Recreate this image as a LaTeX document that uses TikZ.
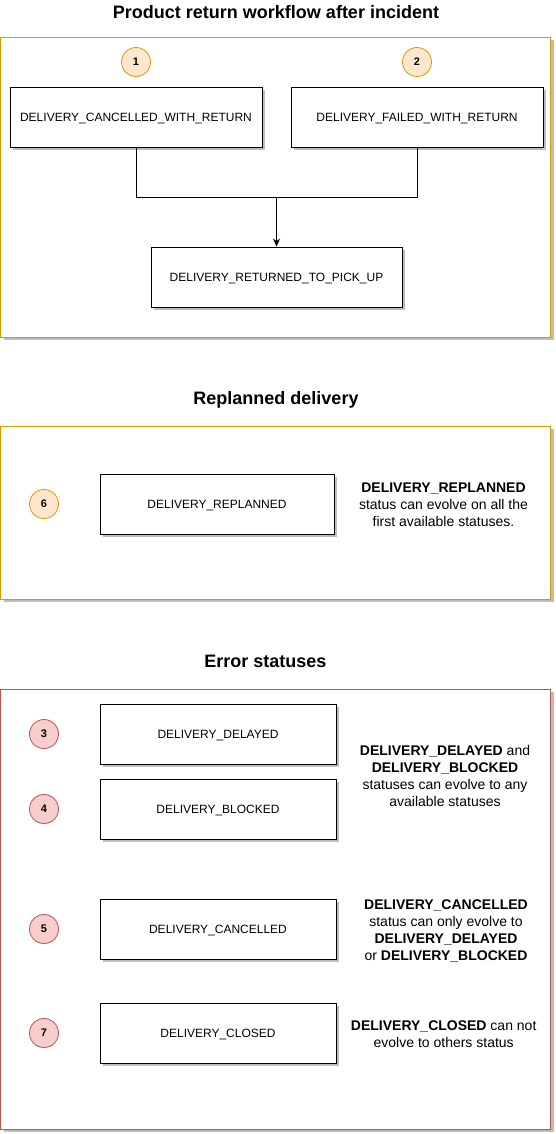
\documentclass[tikz,border=0pt]{standalone}
\usepackage{fontspec}
\setmainfont{Liberation Sans}
\usetikzlibrary{arrows.meta,shadows}
\definecolor{orgstroke}{HTML}{D79B00}
\definecolor{orgfill}{HTML}{FFE6CC}
\definecolor{redstroke}{HTML}{B85450}
\definecolor{redfill}{HTML}{F8CECC}
\definecolor{shadowgray}{HTML}{BDBDBD}
\tikzset{
  shad/.style={drop shadow={shadow xshift=3pt,shadow yshift=-3pt,fill=shadowgray,opacity=1}},
  container/.style={draw,line width=0.8pt,fill=white,shad,minimum width=550pt,inner sep=0pt},
  statusbox/.style={draw=black,line width=0.9pt,fill=white,shad,inner sep=0pt,minimum height=60pt,
    text height=8.6pt,text depth=0pt,font=\fontsize{12}{14}\selectfont},
  numorange/.style={circle,draw=orgstroke,fill=orgfill,line width=0.8pt,minimum size=29pt,inner sep=0pt,
    text height=7.9pt,text depth=0pt,font=\bfseries\fontsize{11}{13}\selectfont},
  numred/.style={circle,draw=redstroke,fill=redfill,line width=0.8pt,minimum size=29pt,inner sep=0pt,
    text height=7.9pt,text depth=0pt,font=\bfseries\fontsize{11}{13}\selectfont},
  heading/.style={font=\bfseries\fontsize{18}{21}\selectfont,inner sep=0pt},
  note/.style={align=center,inner sep=0pt,font=\fontsize{14}{17}\selectfont},
  conn/.style={draw=black,line width=0.9pt}
}
\begin{document}
\begin{tikzpicture}[x=1pt,y=-1pt]
\useasboundingbox (0,0) rectangle (555,1134);
% titles
\node[heading] (t1) at (276,12) {Product return workflow after incident};
\node[heading] (t2) at (276,400) {Replanned delivery};
\node[heading] (t3) at (265.5,661) {Error statuses};
% containers
\node[container,draw=orgstroke,minimum height=300pt] (c1) at (275.75,187) {};
\node[container,draw=orgstroke,minimum height=173pt] (c2) at (275.75,512.5) {};
\node[container,draw=redstroke,minimum height=440pt] (c3) at (275.75,909) {};
% section 1
\node[numorange] (n1) at (136,62) {1};
\node[numorange] (n2) at (417,62) {2};
\node[statusbox,minimum width=252pt] (a) at (136,117) {DELIVERY\_CANCELLED\_WITH\_RETURN};
\node[statusbox,minimum width=252pt] (b) at (417,117) {DELIVERY\_FAILED\_WITH\_RETURN};
\node[statusbox,minimum width=251pt] (c) at (276.5,277) {DELIVERY\_RETURNED\_TO\_PICK\_UP};
\coordinate (j) at (276.5,197.5);
\draw[conn] (a.south) |- (j) -| (b.south);
\draw[conn,-{Stealth[length=8pt,width=7pt]}] (j) -- (c.north);
% section 2
\node[numorange] (n6) at (44,504) {6};
\node[statusbox,minimum width=234pt] (r) at (217,504) {DELIVERY\_REPLANNED};
\node[note] (nr) at (443.5,505) {\textbf{DELIVERY\_REPLANNED}\\status can evolve on all the\\first available statuses.};
% section 3
\node[numred] (n3) at (44,734) {3};
\node[numred] (n4) at (44,809) {4};
\node[numred] (n5) at (44,929) {5};
\node[numred] (n7) at (44,1033) {7};
\node[statusbox,minimum width=236pt] (d) at (218,734) {DELIVERY\_DELAYED};
\node[statusbox,minimum width=236pt] (bl) at (218,809) {DELIVERY\_BLOCKED};
\node[statusbox,minimum width=236pt] (ca) at (218,929) {DELIVERY\_CANCELLED};
\node[statusbox,minimum width=236pt] (cl) at (218,1033) {DELIVERY\_CLOSED};
\node[note] (nd) at (445,775.5) {\textbf{DELIVERY\_DELAYED} and\\\textbf{DELIVERY\_BLOCKED}\\statuses can evolve to any\\available statuses};
\node[note] (nc) at (446,930.5) {\textbf{DELIVERY\_CANCELLED}\\status can only evolve to\\\textbf{DELIVERY\_DELAYED}\\or \textbf{DELIVERY\_BLOCKED}};
\node[note] (ncl) at (443.7,1034.5) {\textbf{DELIVERY\_CLOSED} can not\\evolve to others status};
\end{tikzpicture}
\end{document}
